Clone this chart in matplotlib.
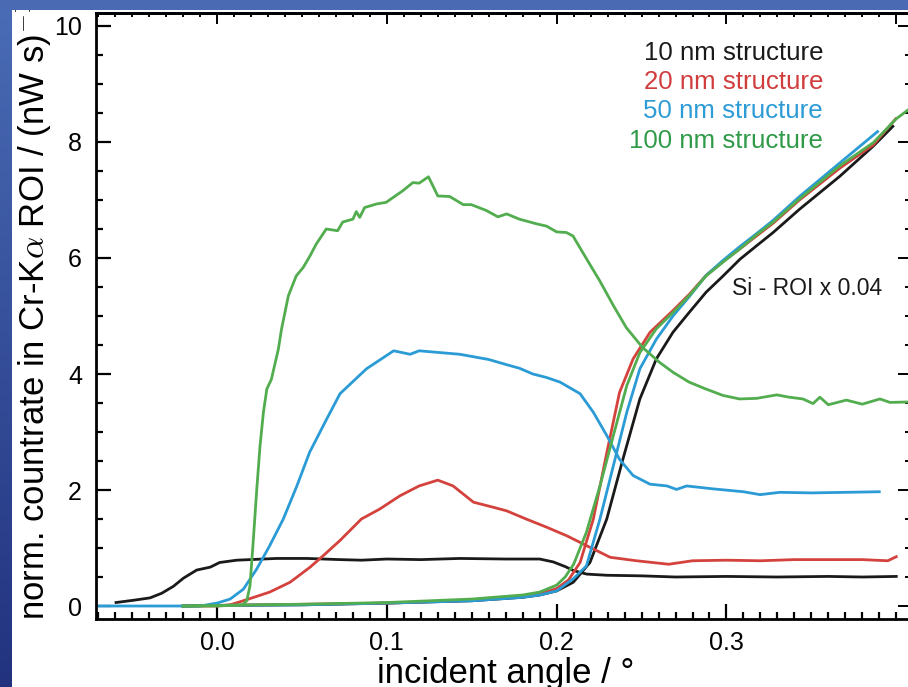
import numpy as np
import matplotlib
matplotlib.use("Agg")
import matplotlib.pyplot as plt
from matplotlib.ticker import MultipleLocator
from matplotlib.patches import Rectangle
from matplotlib.colors import LinearSegmentedColormap

plt.rcParams['font.family'] = ['Liberation Sans', 'DejaVu Sans']
plt.rcParams['mathtext.fontset'] = 'cm'

# --- Cr-K alpha ROI curves (incident angle in deg, countrate) ---
black_cr_x = [-0.0595, -0.049, -0.0395, -0.0326, -0.0257, -0.0198, -0.012, -0.004, 0.0015,
              0.0116, 0.0194, 0.035, 0.053, 0.0724, 0.085, 0.10, 0.12, 0.143, 0.17, 0.19,
              0.198, 0.205, 0.21, 0.2177, 0.2295, 0.25, 0.27, 0.30, 0.33, 0.36, 0.38, 0.40]
black_cr_y = [0.06, 0.10, 0.14, 0.22, 0.34, 0.48, 0.62, 0.67, 0.75,
              0.79, 0.80, 0.82, 0.82, 0.80, 0.79, 0.81, 0.80, 0.82, 0.81, 0.81,
              0.76, 0.68, 0.61, 0.55, 0.53, 0.52, 0.50, 0.51, 0.50, 0.51, 0.50, 0.51]

red_cr_x = [-0.02, 0.0, 0.0077, 0.0175, 0.031, 0.043, 0.0548, 0.0626, 0.0724, 0.085, 0.0957,
            0.1077, 0.119, 0.130, 0.139, 0.151, 0.163, 0.1706, 0.182, 0.194, 0.206, 0.2177,
            0.2315, 0.247, 0.266, 0.28, 0.30, 0.32, 0.34, 0.36, 0.38, 0.395, 0.40]
red_cr_y = [0.0, 0.0, 0.02, 0.11, 0.24, 0.41, 0.67, 0.87, 1.13, 1.50, 1.67,
            1.90, 2.07, 2.17, 2.07, 1.79, 1.70, 1.64, 1.50, 1.36, 1.21, 1.04,
            0.84, 0.78, 0.72, 0.78, 0.79, 0.78, 0.80, 0.80, 0.80, 0.78, 0.85]

blue_cr_x = [-0.08, -0.01, 0.0, 0.0077, 0.0155, 0.0234, 0.031, 0.039, 0.047, 0.0545, 0.0645,
             0.0724, 0.088, 0.104, 0.1137, 0.119, 0.143, 0.16, 0.1706, 0.178, 0.186, 0.194,
             0.202, 0.2138, 0.2216, 0.2295, 0.237, 0.245, 0.255, 0.265, 0.2706, 0.2766,
             0.292, 0.31, 0.3198, 0.3315, 0.35, 0.37, 0.39]
blue_cr_y = [0.0, 0.0, 0.05, 0.12, 0.29, 0.64, 1.04, 1.50, 2.07, 2.65, 3.22,
             3.66, 4.09, 4.40, 4.34, 4.40, 4.34, 4.25, 4.16, 4.10, 4.00, 3.94,
             3.86, 3.66, 3.34, 2.94, 2.53, 2.25, 2.10, 2.07, 2.01, 2.07,
             2.02, 1.97, 1.92, 1.96, 1.95, 1.96, 1.97]

green_cr_x = [-0.02, 0.0, 0.015, 0.0175, 0.0194, 0.0214, 0.0234, 0.0253, 0.0273, 0.0293, 0.032,
              0.0361, 0.038, 0.042, 0.0466, 0.0508, 0.0548, 0.0584, 0.0643, 0.071, 0.074,
              0.080, 0.082, 0.084, 0.0869, 0.0937, 0.0996, 0.1094, 0.1153, 0.119, 0.1245,
              0.130, 0.137, 0.145, 0.1497, 0.1585, 0.1654, 0.1706, 0.178, 0.188, 0.194,
              0.200, 0.2057, 0.2096, 0.2177, 0.2253, 0.2334, 0.241, 0.2505, 0.2606, 0.2685,
              0.278, 0.288, 0.298, 0.3077, 0.3177, 0.3296, 0.337, 0.345, 0.351, 0.355,
              0.360, 0.3706, 0.380, 0.3904, 0.3963, 0.41]
green_cr_y = [0.0, 0.0, 0.02, 0.09, 0.35, 1.16, 2.02, 2.76, 3.34, 3.74, 3.91,
              4.43, 4.78, 5.35, 5.69, 5.84, 6.04, 6.24, 6.50, 6.47, 6.62,
              6.67, 6.80, 6.70, 6.87, 6.93, 6.96, 7.16, 7.30, 7.29, 7.40,
              7.07, 7.06, 6.92, 6.92, 6.82, 6.71, 6.76, 6.67, 6.59, 6.55,
              6.45, 6.44, 6.38, 5.98, 5.61, 5.18, 4.80, 4.46, 4.20, 4.03,
              3.86, 3.74, 3.63, 3.57, 3.58, 3.64, 3.60, 3.57, 3.49, 3.60,
              3.47, 3.55, 3.48, 3.57, 3.51, 3.52]

# --- Si ROI x 0.04 curves ---
black_si_x = [-0.02, 0.0, 0.05, 0.10, 0.15, 0.18, 0.19, 0.20, 0.2098, 0.2196, 0.2295, 0.239,
              0.249, 0.2587, 0.2685, 0.278, 0.288, 0.298, 0.308, 0.3177, 0.3275, 0.343,
              0.3668, 0.3865, 0.398]
black_si_y = [0.0, 0.01, 0.02, 0.05, 0.09, 0.15, 0.19, 0.26, 0.41, 0.75, 1.50, 2.53,
              3.57, 4.26, 4.72, 5.06, 5.41, 5.69, 5.98, 6.21, 6.44, 6.84,
              7.41, 7.93, 8.27]

red_si_x = [-0.02, 0.0, 0.05, 0.10, 0.15, 0.18, 0.19, 0.20, 0.207, 0.2138, 0.2216, 0.2295,
            0.237, 0.245, 0.255, 0.268, 0.278, 0.288, 0.298, 0.308, 0.3177, 0.3275, 0.343,
            0.3668, 0.3865, 0.3997]
red_si_y = [0.0, 0.01, 0.03, 0.05, 0.10, 0.17, 0.21, 0.30, 0.45, 0.75, 1.50, 2.64,
            3.68, 4.26, 4.72, 5.08, 5.37, 5.70, 5.94, 6.16, 6.38, 6.60, 7.00,
            7.55, 7.95, 8.40]

blue_si_x = [-0.02, 0.0, 0.05, 0.10, 0.15, 0.18, 0.19, 0.20, 0.2098, 0.2175, 0.2255, 0.2334,
             0.2413, 0.249, 0.2587, 0.2685, 0.278, 0.288, 0.298, 0.308, 0.3177, 0.3275,
             0.343, 0.3668, 0.389]
blue_si_y = [0.0, 0.01, 0.02, 0.05, 0.09, 0.15, 0.19, 0.26, 0.47, 0.69, 1.50, 2.42,
             3.34, 4.09, 4.60, 5.00, 5.33, 5.70, 5.96, 6.20, 6.42, 6.65,
             7.06, 7.64, 8.18]

green_si_x = [-0.02, 0.0, 0.05, 0.10, 0.15, 0.18, 0.19, 0.20, 0.205, 0.21, 0.2175, 0.2255,
              0.2334, 0.2413, 0.249, 0.2587, 0.2685, 0.278, 0.288, 0.298, 0.308, 0.3177,
              0.3275, 0.343, 0.3668, 0.3865, 0.400, 0.41]
green_si_y = [0.0, 0.01, 0.03, 0.06, 0.12, 0.19, 0.24, 0.36, 0.50, 0.72, 1.27, 2.07,
              2.94, 3.80, 4.37, 4.78, 5.06, 5.35, 5.69, 5.93, 6.16, 6.40,
              6.62, 7.02, 7.59, 7.99, 8.40, 8.62]

legend_labels = ["10 nm structure", "20 nm structure", "50 nm structure", "100 nm structure"]
line_colors = ["#1a1a1a", "#d4423d", "#2b9bd6", "#52ad4f"]
text_colors = ["#1a1a1a", "#d13d3d", "#2c9bd6", "#2f9a48"]

fig = plt.figure(figsize=(9.08, 6.87), dpi=100)
fig.patch.set_facecolor("white")
ax = fig.add_axes([96 / 908, 68 / 687, 813 / 908, 606 / 687])

series = [
    (black_cr_x, black_cr_y, black_si_x, black_si_y),
    (red_cr_x, red_cr_y, red_si_x, red_si_y),
    (blue_cr_x, blue_cr_y, blue_si_x, blue_si_y),
    (green_cr_x, green_cr_y, green_si_x, green_si_y),
]
for (cx, cy, sx, sy), col in zip(series, line_colors):
    ax.plot(cx, cy, color=col, lw=2.0, solid_joinstyle="round")
    ax.plot(sx, sy, color=col, lw=2.0, solid_joinstyle="round")

ax.set_xlim(-0.0713, 0.4075)
ax.set_ylim(-0.224, 10.224)

ax.xaxis.set_major_locator(MultipleLocator(0.1))
ax.xaxis.set_minor_locator(MultipleLocator(0.01))
ax.yaxis.set_major_locator(MultipleLocator(2))
ax.yaxis.set_minor_locator(MultipleLocator(0.5))
ax.set_xticks([0.0, 0.1, 0.2, 0.3])
ax.set_xticklabels(["0.0", "0.1", "0.2", "0.3"])
ax.set_yticks([0, 2, 4, 6, 8, 10])
ax.set_yticklabels(["0", "2", "4", "6", "8", "10"])

ax.tick_params(which="both", direction="in", width=1.6, labelsize=18, top=False, right=False)
ax.tick_params(which="major", length=11)
ax.tick_params(which="minor", length=5)
ax.tick_params(axis="x", pad=9)
ax.tick_params(axis="y", pad=10)
for sp in ax.spines.values():
    sp.set_linewidth(2.0)

# top / right: shorter ticks, no labels
top = ax.secondary_xaxis("top")
top.xaxis.set_major_locator(MultipleLocator(0.1))
top.xaxis.set_minor_locator(MultipleLocator(0.01))
top.tick_params(which="both", direction="in", width=1.4, labeltop=False)
top.tick_params(which="major", length=8)
top.tick_params(which="minor", length=3)
top.spines["top"].set_linewidth(2.0)

right = ax.secondary_yaxis("right")
right.yaxis.set_major_locator(MultipleLocator(2))
right.yaxis.set_minor_locator(MultipleLocator(0.5))
right.tick_params(which="both", direction="in", width=1.4, labelright=False)
right.tick_params(which="major", length=8)
right.tick_params(which="minor", length=3)

# legend as coloured text
for i, (lab, col) in enumerate(zip(legend_labels, text_colors)):
    fig.text(823 / 908, 1 - (60 + 29.2 * i) / 687, lab, color=col, fontsize=18.6,
             ha="right", va="baseline")

fig.text(732 / 908, 1 - 295 / 687, "Si - ROI x 0.04", color="#1a1a1a", fontsize=16.5,
         ha="left", va="baseline")

fig.text(506 / 908, 4 / 687, "incident angle / °", fontsize=25, ha="center", va="baseline")
fig.text(33 / 908, 1 - 620 / 687, r"norm. countrate in Cr-K$\alpha$ ROI / (nW s)$^{-1}$",
         fontsize=25, rotation=90, ha="center", va="bottom", zorder=1)

# slide frame: top band and left strip
fig.patches.append(Rectangle((0, 1 - 10 / 687), 1, 10 / 687, transform=fig.transFigure,
                             facecolor="#4a6ab4", edgecolor="none", zorder=10))
strip = fig.add_axes([0, 0, 12 / 908, 1], zorder=10)
cmap = LinearSegmentedColormap.from_list("slide", ["#4a6cb6", "#22327e"])
strip.imshow(np.linspace(0, 1, 256).reshape(-1, 1), aspect="auto", cmap=cmap)
strip.axis("off")

fig.savefig("out.png", dpi=100)
